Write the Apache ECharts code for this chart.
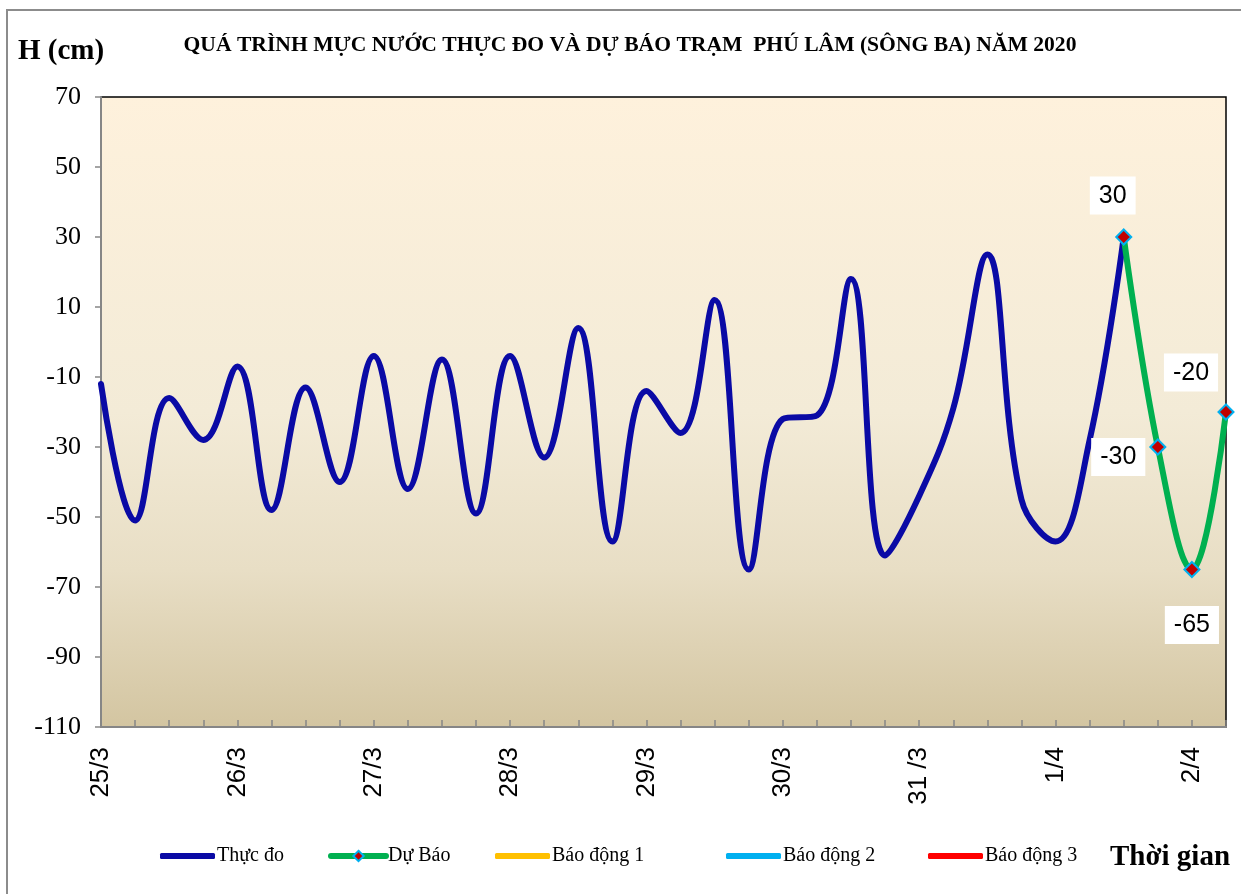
<!DOCTYPE html>
<html>
<head>
<meta charset="utf-8">
<title>Phú Lâm</title>
<script src="https://cdn.jsdelivr.net/npm/echarts@6/dist/echarts.min.js"></script>
<style>
  html, body { margin: 0; padding: 0; background: #fff; }
  #main { width: 1241px; height: 894px; }
</style>
</head>
<body>
<div id="main"></div>
<script>
// moc thoi gian 6 gio / lan
var times = [
  "25/3 0h", "25/3 6h", "25/3 12h", "25/3 18h",
  "26/3 0h", "26/3 6h", "26/3 12h", "26/3 18h",
  "27/3 0h", "27/3 6h", "27/3 12h", "27/3 18h",
  "28/3 0h", "28/3 6h", "28/3 12h", "28/3 18h",
  "29/3 0h", "29/3 6h", "29/3 12h", "29/3 18h",
  "30/3 0h", "30/3 6h", "30/3 12h", "30/3 18h",
  "31 /3 0h", "31 /3 6h", "31 /3 12h", "31 /3 18h",
  "1/4 0h", "1/4 6h", "1/4 12h", "1/4 18h",
  "2/4 0h", "2/4 6h"
];
// muc nuoc thuc do (cm)
var thucDo = [
  -12, -51, -16, -28, -7, -48, -13, -40, -4, -42, -5, -49, -4, -33, 4, -57,
  -14, -26, 12, -65, -22, -21, 18, -61, -44, -19, 25, -45, -57, -28, 30
];
// du bao (bat dau tu 1/4 12h)
var duBao = [30, -30, -65, -20];
var duBaoStart = 30;
var yTicks = { min: -110, max: 70, step: 20 };
var legendNames = ["Thực đo", "Dự Báo", "Báo động 1", "Báo động 2", "Báo động 3"];

var serif = "'Liberation Serif', 'Times New Roman', serif";
var sans = "'Liberation Sans', Arial, sans-serif";

var thucDoData = times.map(function (t, i) {
  return i < thucDo.length ? thucDo[i] : null;
});

// vi tri nhan du bao
var labelPos = [
  { position: "top", distance: 14, offset: [-11, 0] },
  { position: "left", distance: 4, offset: [0, 10] },
  { position: "bottom", distance: 28, offset: [0, 0] },
  { position: "top", distance: 12, offset: [-35, 0] }
];
var duBaoData = times.map(function (t, i) {
  var k = i - duBaoStart;
  if (k < 0 || k >= duBao.length) return null;
  return { value: duBao[k], label: labelPos[k] };
});

var myChart = echarts.init(document.getElementById("main"));

var legendLeft = [160, 328, 495, 726, 928];
var legends = legendNames.map(function (name, i) {
  var item = { name: name };
  if (i !== 1) item.icon = "roundRect";
  return {
    data: [item],
    left: legendLeft[i],
    top: 846,
    padding: 0,
    itemWidth: 55,
    itemHeight: i === 1 ? 13 : 6,
    itemGap: 0,
    selectedMode: false,
    lineStyle: { width: 6, cap: "round" },
    textStyle: { fontFamily: serif, fontSize: 20, color: "#000", padding: [0, 0, 0, -3] }
  };
});

function lineSeries(name, color, data) {
  return {
    name: name,
    type: "line",
    data: data,
    symbol: "none",
    smooth: 0.4,
    lineStyle: { color: color, width: 6, cap: "round", join: "round" },
    itemStyle: { color: color }
  };
}

var option = {
  animation: false,
  backgroundColor: "#fff",
  grid: {
    left: 101,
    right: 15,
    top: 97,
    bottom: 167,
    show: true,
    borderColor: "#000",
    borderWidth: 1.5,
    backgroundColor: {
      type: "linear", x: 0, y: 0, x2: 0, y2: 1,
      colorStops: [
        { offset: 0, color: "#fef1dc" },
        { offset: 0.5, color: "#f3ebd7" },
        { offset: 0.75, color: "#e8dec5" },
        { offset: 1, color: "#d3c5a1" }
      ]
    }
  },
  legend: legends,
  xAxis: {
    type: "category",
    data: times,
    boundaryGap: false,
    axisLine: { onZero: false, lineStyle: { color: "#868686", width: 2 } },
    axisTick: { inside: true, length: 7, interval: 0, lineStyle: { color: "#868686", width: 1.5 } },
    axisLabel: {
      interval: 3,
      rotate: 90,
      margin: 20,
      fontFamily: sans,
      fontSize: 26,
      color: "#000",
      formatter: function (v) { return v.split(" ")[0] + (v.indexOf(" /") > 0 ? " /3" : ""); }
    },
    splitLine: { show: false }
  },
  yAxis: {
    type: "value",
    min: yTicks.min,
    max: yTicks.max,
    interval: yTicks.step,
    axisLine: { show: true, lineStyle: { color: "#868686", width: 2 } },
    axisTick: { show: true, length: 6, lineStyle: { color: "#868686", width: 1.5 } },
    axisLabel: { margin: 20, fontFamily: serif, fontSize: 26, color: "#000" },
    splitLine: { show: false }
  },
  graphic: [
    {
      type: "rect",
      shape: { x: 7, y: 10, width: 1260, height: 900 },
      style: { fill: "none", stroke: "#8c8c8c", lineWidth: 2 },
      silent: true
    },
    {
      type: "text",
      x: 630, y: 45,
      style: {
        text: "QUÁ TRÌNH MỰC NƯỚC THỰC ĐO VÀ DỰ BÁO TRẠM  PHÚ LÂM (SÔNG BA) NĂM 2020",
        font: "bold 21.6px " + serif,
        fill: "#000",
        align: "center",
        verticalAlign: "middle"
      }
    },
    {
      type: "text",
      x: 18, y: 52,
      style: { text: "H (cm)", font: "bold 29px " + serif, fill: "#000", verticalAlign: "middle" }
    },
    {
      type: "text",
      x: 1110, y: 858,
      style: { text: "Thời gian", font: "bold 29px " + serif, fill: "#000", verticalAlign: "middle" }
    }
  ],
  series: [
    lineSeries("Thực đo", "#0a0aa5", thucDoData),
    {
      name: "Dự Báo",
      type: "line",
      data: duBaoData,
      smooth: 0.4,
      symbol: "diamond",
      symbolSize: 15,
      showAllSymbol: true,
      z: 3,
      lineStyle: { color: "#00b050", width: 6, cap: "round" },
      itemStyle: { color: "#c00000", borderColor: "#00b0f0", borderWidth: 2 },
      label: {
        show: true,
        fontFamily: sans,
        fontSize: 25,
        color: "#000",
        backgroundColor: "#fff",
        padding: [7, 9, 6, 9]
      }
    },
    lineSeries("Báo động 1", "#ffc000", []),
    lineSeries("Báo động 2", "#00b0f0", []),
    lineSeries("Báo động 3", "#ff0000", [])
  ]
};

option && myChart.setOption(option);
</script>
</body>
</html>
